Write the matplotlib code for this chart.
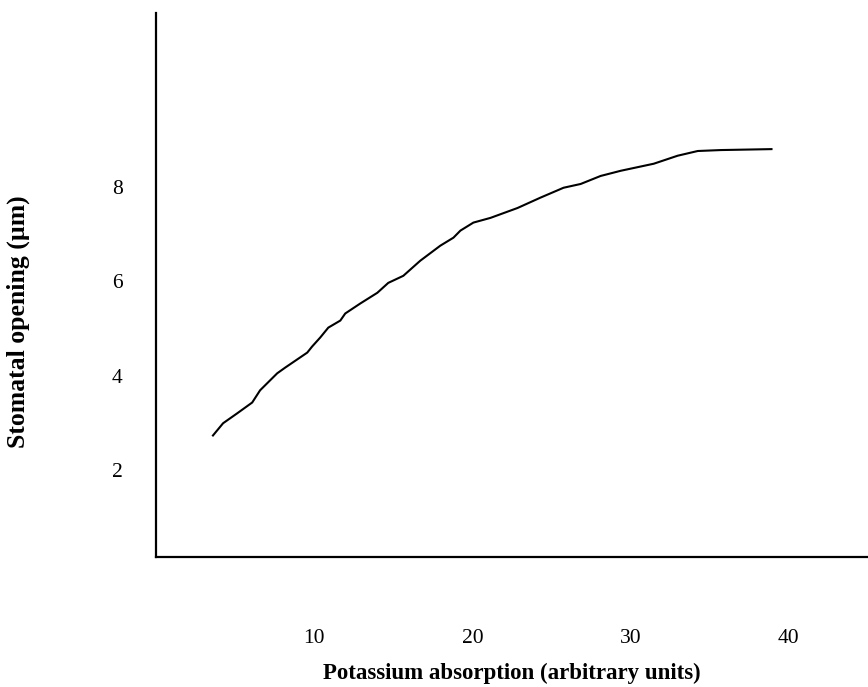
import matplotlib
matplotlib.use("Agg")
import matplotlib.pyplot as plt

# curve
potassium = [3.6, 4.24, 5.13, 6.08, 6.58, 7.66, 8.16, 9.56, 9.87, 10.38, 10.89,
             11.65, 11.96, 12.9, 13.99, 14.68, 15.63, 16.7, 17.97, 18.8, 19.24,
             20.06, 21.14, 22.85, 24.3, 25.76, 26.84, 28.1, 29.37, 31.46, 32.97,
             34.24, 35.7, 38.9]
opening = [2.73, 2.99, 3.2, 3.43, 3.69, 4.05, 4.17, 4.49, 4.62, 4.81, 5.02,
           5.17, 5.32, 5.53, 5.76, 5.97, 6.12, 6.44, 6.76, 6.93, 7.08,
           7.25, 7.35, 7.56, 7.78, 7.99, 8.07, 8.24, 8.35, 8.5, 8.67,
           8.77, 8.79, 8.81]
xticks = [10, 20, 30, 40]
yticks = [2, 4, 6, 8]

plt.rcParams['font.family'] = ['Liberation Serif', 'DejaVu Serif']

fig = plt.figure(figsize=(8.68, 6.87), dpi=100)
ax = fig.add_axes([156/868, 130/687, 1 - 156/868, 544/687])
ax.plot(potassium, opening, color='black', lw=1.5, solid_joinstyle='round')

ax.set_xlim(0, 45)
ax.set_ylim(0.15, 11.7)
ax.set_xticks(xticks)
ax.set_yticks(yticks)
ax.tick_params(length=0, labelsize=15.5)
ax.tick_params(axis='x', pad=52)
ax.tick_params(axis='y', pad=24)

for s in ['top', 'right']:
    ax.spines[s].set_visible(False)
for s in ['left', 'bottom']:
    ax.spines[s].set_linewidth(1.6)

fig.text(512/868, 1 - 673/687, 'Potassium absorption (arbitrary units)',
         ha='center', va='center', fontsize=16.5, fontweight='bold')
fig.text(18/868, 1 - 322/687, 'Stomatal opening (µm)', rotation=90,
         ha='center', va='center', fontsize=18.5, fontweight='bold')

fig.savefig('out.png', dpi=100)
